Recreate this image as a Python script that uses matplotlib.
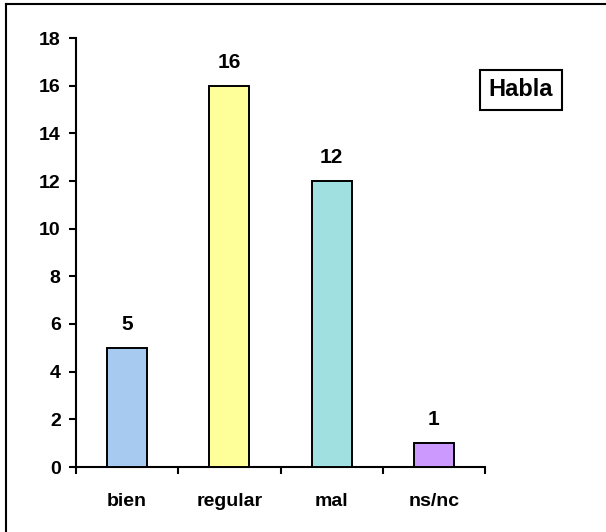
import matplotlib
matplotlib.use('Agg')
import matplotlib.pyplot as plt
from matplotlib.lines import Line2D

categories = ['bien', 'regular', 'mal', 'ns/nc']
values = [5, 16, 12, 1]
colors = ['#A6CAF0', '#FFFF99', '#A0E0E0', '#CC99FF']
yticks = [0, 2, 4, 6, 8, 10, 12, 14, 16, 18]

plt.rcParams['font.family'] = ['Liberation Sans', 'DejaVu Sans']
plt.rcParams['font.weight'] = 'bold'

fig = plt.figure(figsize=(6.06, 5.32), dpi=100)
ax = fig.add_axes([76 / 606, 65 / 532, 409 / 606, 429 / 532])

x = list(range(len(categories)))
ax.bar(x, values, width=0.39, color=colors, edgecolor='black', linewidth=1.4, zorder=3)

for xi, v in zip(x, values):
    ax.annotate(str(v), (xi, v), xytext=(0, 10), textcoords='offset points',
                ha='center', va='bottom', fontsize=15, fontweight='bold')

ax.set_xlim(-0.5, len(categories) - 0.5)
ax.set_ylim(0, 18)
ax.set_yticks(yticks)
ax.set_yticklabels([str(t) for t in yticks], fontsize=14, fontweight='bold')

# ticks between categories, labels centred on bars
ax.set_xticks([i - 0.5 for i in range(len(categories) + 1)])
ax.set_xticklabels([])
ax.set_xticks(x, minor=True)
ax.set_xticklabels(categories, minor=True, fontsize=14, fontweight='bold')
ax.tick_params(axis='x', which='minor', length=0, pad=19)
ax.tick_params(axis='x', which='major', direction='out', length=5, width=1.5)
ax.tick_params(axis='y', direction='out', length=5, width=1.5, pad=6)

for s in ['top', 'right']:
    ax.spines[s].set_visible(False)
for s in ['left', 'bottom']:
    ax.spines[s].set_linewidth(1.5)

fig.text(521 / 606, 1 - 90 / 532, 'Habla', ha='center', va='center',
         fontsize=17, fontweight='bold',
         bbox=dict(boxstyle='square,pad=0.35', facecolor='white', edgecolor='black', linewidth=1.5))

# outer frame (only top and left edges visible)
fig.add_artist(Line2D([6 / 606, 1], [1 - 4 / 532, 1 - 4 / 532], color='black', linewidth=1.5))
fig.add_artist(Line2D([6 / 606, 6 / 606], [0, 1 - 4 / 532], color='black', linewidth=1.5))

fig.savefig('out.png', dpi=100, facecolor='white')
